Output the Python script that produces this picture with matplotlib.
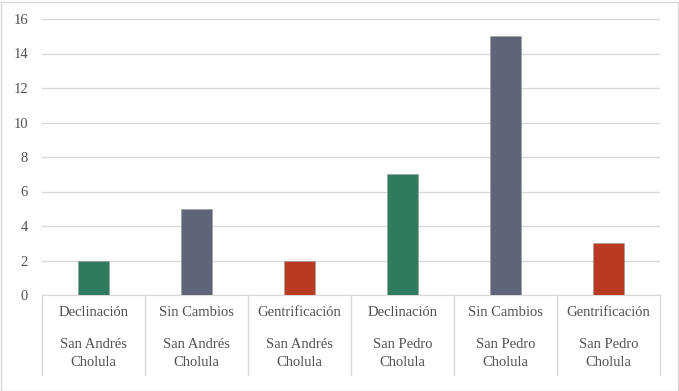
import matplotlib
matplotlib.use("Agg")
from matplotlib import pyplot as plt
from matplotlib.patches import Rectangle

# datos
categorias = ["Declinación", "Sin Cambios", "Gentrificación",
              "Declinación", "Sin Cambios", "Gentrificación"]
municipios = ["San Andrés\nCholula", "San Andrés\nCholula", "San Andrés\nCholula",
              "San Pedro\nCholula", "San Pedro\nCholula", "San Pedro\nCholula"]
valores = [2, 5, 2, 7, 15, 3]
colores = ["#2E7B5E", "#5F6479", "#B93A21", "#2E7B5E", "#5F6479", "#B93A21"]

plt.rcParams["font.family"] = ["Liberation Serif", "DejaVu Serif"]

fig = plt.figure(figsize=(6.79, 3.91), dpi=100)
ax = fig.add_axes([42 / 679, 96 / 391, 618 / 679, 276 / 391])

x = list(range(len(valores)))
ax.bar(x, valores, width=0.31, color=colores, edgecolor="#9a9a9a", linewidth=0.4, zorder=3)

ax.set_xlim(-0.5, len(valores) - 0.5)
ax.set_ylim(0, 16)
ax.set_yticks(range(0, 17, 2))
ax.yaxis.grid(True, color="#D9D9D9", linewidth=1, zorder=0)
ax.tick_params(axis="y", length=0, pad=10, labelsize=10.5, labelcolor="#505050")
ax.set_xticks([])
for s in ["top", "right", "left"]:
    ax.spines[s].set_visible(False)
ax.spines["bottom"].set_color("#D9D9D9")

# eje de categorias en dos niveles
tr = ax.get_xaxis_transform()
for i in range(len(valores) + 1):
    ax.plot([i - 0.5, i - 0.5], [0, -0.29], transform=tr, color="#D9D9D9",
            linewidth=1, clip_on=False)
for i in x:
    ax.text(i, -0.065, categorias[i], transform=tr, ha="center", va="center",
            fontsize=10.5, color="#505050")
    ax.text(i, -0.212, municipios[i], transform=tr, ha="center", va="center",
            fontsize=10.5, color="#505050", linespacing=1.5)

fig.patches.append(Rectangle((0.5 / 679, 0.5 / 391), 677 / 679, 389 / 391,
                             transform=fig.transFigure, fill=False,
                             edgecolor="#D9D9D9", linewidth=1))

fig.savefig("out.png", dpi=100)
